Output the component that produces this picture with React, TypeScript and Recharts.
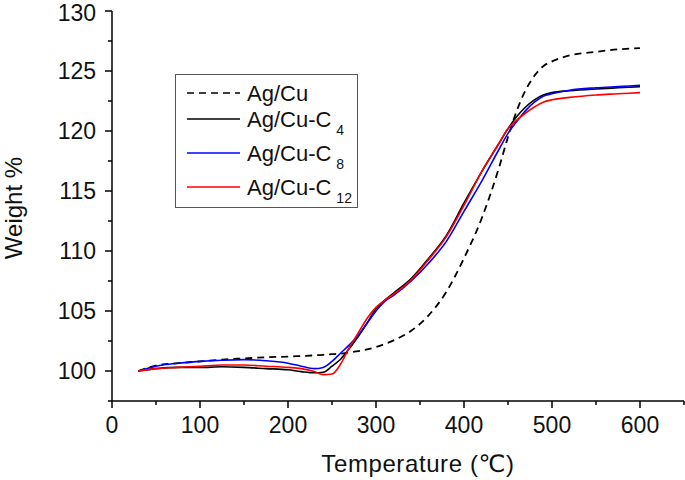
import React from 'react';
import { LineChart, Line, XAxis, YAxis } from 'recharts';

if (typeof document !== 'undefined') {
  document.body.style.margin = '0';
}

const temperatures = [30, 50, 75, 100, 125, 150, 175, 200, 215, 230, 240, 250, 260, 270, 280, 290, 300, 310, 320, 340, 360, 380, 400, 420, 440, 450, 460, 470, 480, 490, 500, 520, 550, 575, 600];

const agCu = [100.0, 100.45, 100.65, 100.8, 100.95, 101.05, 101.15, 101.2, 101.25, 101.3, 101.35, 101.4, 101.45, 101.55, 101.65, 101.8, 102.0, 102.25, 102.55, 103.35, 104.65, 106.6, 109.4, 112.7, 117.0, 119.5, 121.7, 123.4, 124.6, 125.4, 125.8, 126.3, 126.6, 126.8, 126.9];
const agCuC4 = [100.0, 100.2, 100.3, 100.3, 100.35, 100.3, 100.2, 100.1, 99.95, 99.85, 99.9, 100.4, 101.0, 101.9, 102.9, 104.0, 105.2, 105.9, 106.5, 107.7, 109.4, 111.3, 114.0, 116.6, 119.0, 120.2, 121.2, 122.0, 122.6, 123.0, 123.2, 123.35, 123.5, 123.6, 123.7];
const agCuC8 = [100.0, 100.4, 100.65, 100.8, 100.9, 100.95, 100.85, 100.65, 100.4, 100.2, 100.3, 100.8, 101.5, 102.2, 103.0, 104.0, 105.0, 105.8, 106.3, 107.5, 109.0, 110.8, 113.3, 115.8, 118.5, 119.8, 120.8, 121.7, 122.4, 122.9, 123.1, 123.4, 123.6, 123.7, 123.8];
const agCuC12 = [100.0, 100.2, 100.3, 100.4, 100.5, 100.5, 100.4, 100.3, 100.2, 99.95, 99.7, 99.75, 100.6, 102.0, 103.2, 104.4, 105.3, 105.9, 106.4, 107.6, 109.3, 111.2, 113.8, 116.6, 119.0, 120.2, 120.9, 121.5, 122.0, 122.4, 122.6, 122.8, 123.0, 123.1, 123.2];

const xTicks = [0, 50, 100, 150, 200, 250, 300, 350, 400, 450, 500, 550, 600, 650];
const xLabelTicks = [0, 100, 200, 300, 400, 500, 600];
const yTicks = [97.5, 100, 102.5, 105, 107.5, 110, 112.5, 115, 117.5, 120, 122.5, 125, 127.5, 130];
const yLabelTicks = [100, 105, 110, 115, 120, 125, 130];

const data = temperatures.map((t, i) => ({
  t,
  agCu: agCu[i],
  c4: agCuC4[i],
  c8: agCuC8[i],
  c12: agCuC12[i],
}));

const FONT = "'Liberation Sans', Arial, 'DejaVu Sans', 'Noto Sans CJK SC', sans-serif";
const TEXT_COLOR = '#111';

const XTick = (props: any) => {
  const { x, y, payload } = props;
  const major = xLabelTicks.includes(payload.value);
  return (
    <g>
      <line x1={x} y1={y} x2={x} y2={y + (major ? 7 : 4)} stroke="#000" strokeWidth={1.5} />
      {major && (
        <text x={x} y={y + 32} textAnchor="middle" fontSize={23} fontFamily={FONT} fill={TEXT_COLOR}>
          {payload.value}
        </text>
      )}
    </g>
  );
};

const YTick = (props: any) => {
  const { x, y, payload } = props;
  const major = yLabelTicks.includes(payload.value);
  const baseline = Math.max(y + 8, 21);
  return (
    <g>
      <line x1={x} y1={y} x2={x - (major ? 7 : 4)} y2={y} stroke="#000" strokeWidth={1.5} />
      {major && (
        <text x={x - 16} y={baseline} textAnchor="end" fontSize={23} fontFamily={FONT} fill={TEXT_COLOR}>
          {payload.value}
        </text>
      )}
    </g>
  );
};

const XTitle = () => (
  <text x={418} y={472} textAnchor="middle" fontSize={24} fontFamily={FONT} fill={TEXT_COLOR} letterSpacing={0.6}>
    Temperature (℃)
  </text>
);

const YTitle = () => (
  <text x={22} y={208} transform="rotate(-90 22 208)" textAnchor="middle" fontSize={24} fontFamily={FONT} fill={TEXT_COLOR}>
    Weight %
  </text>
);

const legendRows = [
  { y: 19, label: 'Ag/Cu', sub: '', color: '#000', dash: '7 5' },
  { y: 45, label: 'Ag/Cu-C', sub: '4', color: '#000', dash: '' },
  { y: 79, label: 'Ag/Cu-C', sub: '8', color: '#0000ff', dash: '' },
  { y: 113, label: 'Ag/Cu-C', sub: '12', color: '#ff0000', dash: '' },
];

const LegendBox = () => (
  <svg
    width={183}
    height={134}
    style={{ position: 'absolute', left: 175, top: 74 }}
  >
    <rect x={0.5} y={0.5} width={182} height={133} fill="#fff" stroke="#555" strokeWidth={1} />
    {legendRows.map((r, i) => (
      <g key={i}>
        <line x1={12} y1={r.y} x2={65} y2={r.y} stroke={r.color} strokeWidth={1.6} strokeDasharray={r.dash || undefined} />
        <text x={72} y={r.y + 7.5} fontSize={22} fontFamily={FONT} fill={TEXT_COLOR}>
          {r.label}
          {r.sub && (
            <tspan dx={5} dy={8} fontSize={14}>
              {r.sub}
            </tspan>
          )}
        </text>
      </g>
    ))}
  </svg>
);

export default function App() {
  return (
    <div style={{ position: 'relative', width: 685, height: 480, background: '#fff' }}>
      <LineChart width={685} height={480} data={data} margin={{ top: 11, right: 1, bottom: 0, left: 0 }}>
        <XAxis
          dataKey="t"
          type="number"
          domain={[0, 650]}
          ticks={xTicks}
          interval={0}
          height={79}
          tickSize={0}
          tickMargin={0}
          tickLine={false}
          tick={<XTick />}
          axisLine={{ stroke: '#000', strokeWidth: 1.5 }}
          label={<XTitle />}
        />
        <YAxis
          type="number"
          domain={[97.5, 130]}
          ticks={yTicks}
          interval={0}
          width={112}
          tickSize={0}
          tickMargin={0}
          tickLine={false}
          tick={<YTick />}
          axisLine={{ stroke: '#000', strokeWidth: 1.5 }}
          allowDataOverflow
          label={<YTitle />}
        />
        <Line type="monotone" dataKey="agCu" stroke="#000" strokeWidth={1.8} strokeDasharray="7 5" dot={false} isAnimationActive={false} />
        <Line type="monotone" dataKey="c4" stroke="#000" strokeWidth={1.6} dot={false} isAnimationActive={false} />
        <Line type="monotone" dataKey="c8" stroke="#0000ff" strokeWidth={1.6} dot={false} isAnimationActive={false} />
        <Line type="monotone" dataKey="c12" stroke="#ff0000" strokeWidth={1.6} dot={false} isAnimationActive={false} />
      </LineChart>
      <LegendBox />
    </div>
  );
}
